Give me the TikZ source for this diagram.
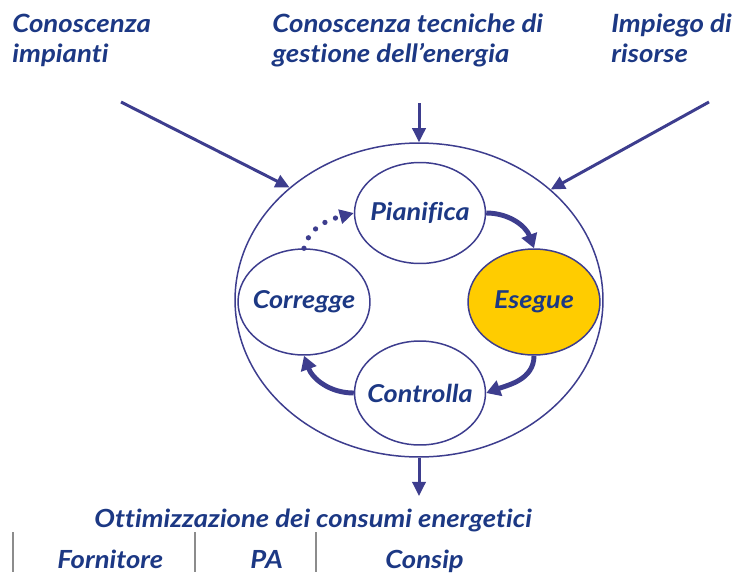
\documentclass[tikz,border=0pt]{standalone}
\usepackage{fontspec}
\setmainfont{Lato}[FakeStretch=1.1, Ligatures=NoCommon]
\usetikzlibrary{arrows.meta, shapes.geometric}
\definecolor{navytext}{HTML}{1C3884}
\definecolor{cycleline}{HTML}{3D3D8E}
\definecolor{stepyellow}{HTML}{FFCC00}
\definecolor{divider}{HTML}{8C8C8C}

\begin{document}
\begin{tikzpicture}[x=0.02cm, y=-0.02cm,
      lab/.style={font=\bfseries\itshape\fontsize{14.3}{17}\selectfont, text=navytext, align=left, inner sep=0pt, anchor=base west},
      actor/.style={font=\bfseries\itshape\fontsize{14.2}{17}\selectfont, text=navytext, inner sep=0pt, anchor=base west},
      phase/.style={ellipse, draw=cycleline, line width=0.85pt, fill=white, font=\bfseries\itshape\fontsize{14}{17}\selectfont, text=navytext, minimum width=2.62cm, minimum height=2.02cm, inner xsep=-6pt, inner ysep=0pt},
      feed/.style={-{Triangle[length=8pt, width=7.5pt]}, draw=cycleline, fill=cycleline, line width=1.7pt},
      cyc/.style={-{Triangle[length=8pt, width=9pt]}, draw=cycleline, line width=2.8pt},
      dots/.style={-{Triangle[length=8pt, width=8pt]}, draw=cycleline, line width=3pt, line cap=round, dash pattern=on 0pt off 6.5pt}]
    \useasboundingbox (0,0) rectangle (733,572);
    \node[ellipse, draw=cycleline, line width=0.85pt, minimum width=7.36cm, minimum height=6.28cm] (proc) at (419,300) {};
    \node[phase] (pian) at (420,213) {Pianifica};
    \node[phase, minimum width=2.64cm, minimum height=2.12cm, fill=stepyellow] (eseg) at (534,302) {Esegue};
    \node[phase, minimum height=2.08cm] (ctrl) at (420,393) {Controlla};
    \node[phase, minimum width=2.64cm, minimum height=2.12cm] (corr) at (304,302) {Corregge};
    % inputs
    \node[lab] (kimp) at (12,62) {Conoscenza\\impianti};
    \node[lab] (ktec) at (272,62) {Conoscenza tecniche di\\gestione dell’energia};
    \node[lab] (risr) at (611,62) {Impiego di\\risorse};
    \coordinate (fa) at (121,102);
    \coordinate (fb) at (419,103);
    \coordinate (fc) at (709,102);
    \draw[feed] (fa) -- (proc.139.5);
    \draw[feed] (fb) -- (proc.north);
    \draw[feed] (fc) -- (proc.40.3);
    % cycle
    \draw[cyc] (pian.east) to[out=0, in=110] (eseg.north);
    \draw[cyc] (eseg.south) to[out=-90, in=20] (ctrl.east);
    \draw[cyc] (ctrl.west) to[out=180, in=-70] (corr.south);
    \draw[dots] (corr.north) to[out=75, in=195] (pian.west);
    % output
    \coordinate (res) at (419,496);
    \draw[feed] (proc.south) -- (res);
    \node[actor] (ott) at (94,527) {Ottimizzazione dei consumi energetici};
    \node[actor] (forn) at (57,568) {Fornitore};
    \node[actor] (pa) at (250,568) {PA};
    \node[actor] (cons) at (385,568) {Consip};
    \foreach \x in {13,195,316}
      \draw[divider, line width=0.8pt] (\x,532) -- (\x,572);
  \end{tikzpicture}
\end{document}
